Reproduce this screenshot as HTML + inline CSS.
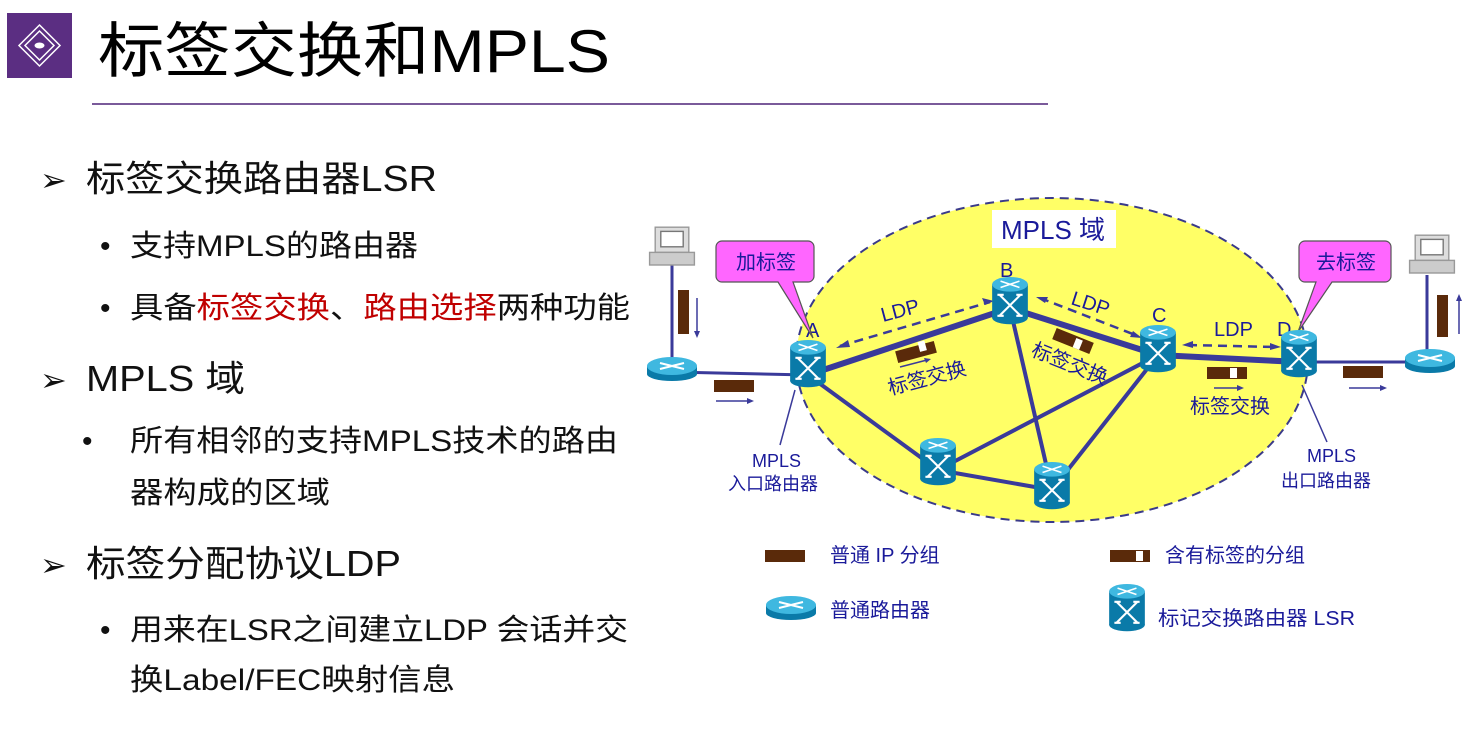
<!DOCTYPE html>
<html><head><meta charset="utf-8"><style>
body{margin:0;background:#fff;}
svg{display:block;}
.cn{font-family:"Liberation Sans","Noto Sans CJK SC",sans-serif;}
</style></head><body>
<svg width="1478" height="732" viewBox="0 0 1478 732" class="cn">
<defs>
<g id="lsr">
<rect x="-17" y="-14" width="34" height="32" fill="#0a7aa8"/>
<ellipse cx="0" cy="18" rx="17" ry="6" fill="#0a7aa8"/>
<ellipse cx="0" cy="-14" rx="17" ry="7" fill="#3fb8e0"/>
<path d="M-9,-17 L9,-11 M9,-17 L-9,-11" stroke="#fff" stroke-width="1.5"/>
<path d="M-10,-4 L10,16 M10,-4 L-10,16 M-12,-4h6 M12,-4h-6 M-12,16h6 M12,16h-6" stroke="#fff" stroke-width="2" fill="none"/>
</g>
<g id="rtr">
<rect x="-25" y="0" width="50" height="8" fill="#0a7aa8"/>
<ellipse cx="0" cy="8" rx="25" ry="7" fill="#0a7aa8"/>
<ellipse cx="0" cy="0" rx="25" ry="9" fill="#3fb8e0"/>
<path d="M-12,-3 L12,3 M12,-3 L-12,3" stroke="#fff" stroke-width="2"/>
</g>
<g id="pc">
<rect x="-12" y="-22" width="24" height="18" fill="#ddd" stroke="#999"/>
<rect x="-8" y="-19" width="16" height="11" fill="#fff" stroke="#777"/>
<rect x="-16" y="-4" width="32" height="9" fill="#ccc" stroke="#999"/>
</g>
</defs>
<!-- header -->
<rect x="7" y="13" width="65" height="65" fill="#5b2e82"/>
<path d="M39.5,25 L60,45.5 L39.5,66 L19,45.5Z M39.5,31 L54,45.5 L39.5,60 L25,45.5Z" fill="none" stroke="#fff" stroke-width="1.5"/>
<ellipse cx="39.5" cy="45.5" rx="5" ry="3" fill="#fff"/>
<text x="98" y="72" font-size="60" fill="#000" textLength="512" lengthAdjust="spacingAndGlyphs">标签交换和MPLS</text>
<line x1="92" y1="104" x2="1048" y2="104" stroke="#7a5a9a" stroke-width="2"/>
<!-- left text -->
<g font-size="36" fill="#111">
<text x="40" y="191" font-size="32">➢</text><text x="86" y="191" textLength="351" lengthAdjust="spacingAndGlyphs">标签交换路由器LSR</text>
<text x="40" y="391" font-size="32">➢</text><text x="86" y="391" textLength="159" lengthAdjust="spacingAndGlyphs">MPLS 域</text>
<text x="40" y="576" font-size="32">➢</text><text x="86" y="576" textLength="315" lengthAdjust="spacingAndGlyphs">标签分配协议LDP</text>
</g>
<g font-size="30" fill="#111">
<text x="100" y="256">•</text><text x="130" y="256" textLength="288" lengthAdjust="spacingAndGlyphs">支持MPLS的路由器</text>
<text x="100" y="318">•</text><text x="130" y="318" textLength="500" lengthAdjust="spacingAndGlyphs">具备<tspan fill="#c00000">标签交换</tspan>、<tspan fill="#c00000">路由选择</tspan>两种功能</text>
<text x="82" y="451">•</text><text x="130" y="451" textLength="488" lengthAdjust="spacingAndGlyphs">所有相邻的支持MPLS技术的路由</text>
<text x="130" y="503" textLength="200" lengthAdjust="spacingAndGlyphs">器构成的区域</text>
<text x="100" y="640">•</text><text x="130" y="640" textLength="498" lengthAdjust="spacingAndGlyphs">用来在LSR之间建立LDP 会话并交</text>
<text x="130" y="690" textLength="325" lengthAdjust="spacingAndGlyphs">换Label/FEC映射信息</text>
</g>
<!-- diagram -->
<ellipse cx="1052" cy="360" rx="256" ry="162" fill="#ffff66" stroke="#3a3a8a" stroke-width="2" stroke-dasharray="9,6"/>
<rect x="992" y="210" width="124" height="38" fill="#fff"/>
<text x="1001" y="239" font-size="26" fill="#1a1a9a">MPLS 域</text>
<g stroke="#3a3a9a" stroke-width="4">
<line x1="808" y1="375" x2="1010" y2="308" stroke-width="6"/>
<line x1="1010" y1="308" x2="1158" y2="355" stroke-width="6"/>
<line x1="1158" y1="355" x2="1299" y2="362" stroke-width="6"/>
<line x1="808" y1="375" x2="938" y2="470"/>
<line x1="938" y1="470" x2="1052" y2="490"/>
<line x1="938" y1="470" x2="1158" y2="355"/>
<line x1="1010" y1="308" x2="1052" y2="490"/>
<line x1="1158" y1="355" x2="1052" y2="490"/>
<line x1="672" y1="372" x2="808" y2="375" stroke-width="3"/>
<line x1="1299" y1="362" x2="1430" y2="362" stroke-width="3"/>
<line x1="672" y1="262" x2="672" y2="368" stroke-width="3"/>
<line x1="1427" y1="275" x2="1427" y2="358" stroke-width="3"/>
</g>
<g stroke="#3a3a9a" stroke-width="2.5" stroke-dasharray="9,6" fill="#3a3a9a">
<line x1="840" y1="346" x2="990" y2="302"/>
<line x1="1040" y1="298" x2="1138" y2="336"/>
<line x1="1188" y1="345" x2="1275" y2="347"/>
</g>
<g fill="#3a3a9a">
<path d="M836,348 l12,-8 l2,7z"/><path d="M994,301 l-12,-3 l3,7z"/>
<path d="M1036,297 l12,0 l-3,6z"/><path d="M1142,338 l-12,-1 l3,-6z"/>
<path d="M1182,345 l11,-4 l0,7z"/><path d="M1281,347 l-11,-4 l0,7z"/>
</g>
<g font-size="20" fill="#1a1a9a">
<text x="883" y="322" transform="rotate(-15 883 322)">LDP</text>
<text x="1070" y="304" transform="rotate(18 1070 304)">LDP</text>
<text x="1214" y="336">LDP</text>
<text x="806" y="337">A</text><text x="1000" y="277">B</text><text x="1152" y="322">C</text><text x="1277" y="336">D</text>
<text x="890" y="395" transform="rotate(-15 890 395)">标签交换</text>
<text x="1030" y="355" transform="rotate(22 1030 355)">标签交换</text>
<text x="1190" y="413">标签交换</text>
<text x="752" y="467" font-size="18">MPLS</text><text x="728" y="490" font-size="18">入口路由器</text>
<text x="1307" y="462" font-size="18">MPLS</text><text x="1281" y="487" font-size="18">出口路由器</text>
<text x="830" y="562">普通 IP 分组</text><text x="1165" y="562">含有标签的分组</text>
<text x="830" y="617">普通路由器</text><text x="1158" y="625" textLength="197" lengthAdjust="spacingAndGlyphs">标记交换路由器 LSR</text>
</g>
<!-- packets -->
<g fill="#5a2a0a">
<rect x="896" y="346" width="40" height="12" transform="rotate(-15 916 352)"/>
<rect x="1053" y="335" width="40" height="12" transform="rotate(22 1073 341)"/>
<rect x="1207" y="367" width="40" height="12"/>
<rect x="714" y="380" width="40" height="12"/>
<rect x="1343" y="366" width="40" height="12"/>
<rect x="678" y="290" width="11" height="44"/>
<rect x="1437" y="295" width="11" height="42"/>
<rect x="765" y="550" width="40" height="12"/>
<rect x="1110" y="550" width="40" height="12"/>
</g>
<g fill="#fff">
<rect x="920" y="343" width="7" height="10" transform="rotate(-15 916 352)"/>
<rect x="1075" y="337" width="7" height="10" transform="rotate(22 1073 341)"/>
<rect x="1230" y="368" width="7" height="10"/>
<rect x="1136" y="551" width="7" height="10"/>
</g>
<g stroke="#3a3a9a" stroke-width="1.5" fill="none">
<line x1="716" y1="401" x2="750" y2="401"/><line x1="1349" y1="388" x2="1383" y2="388"/>
<line x1="697" y1="298" x2="697" y2="334"/><line x1="1459" y1="298" x2="1459" y2="334"/>
<line x1="1214" y1="388" x2="1240" y2="388"/><line x1="900" y1="367" x2="927" y2="360"/>
<line x1="795" y1="390" x2="780" y2="445"/><line x1="1302" y1="385" x2="1327" y2="442"/>
</g>
<g fill="#3a3a9a">
<path d="M754,401 l-7,-3 v6z"/><path d="M1387,388 l-7,-3 v6z"/><path d="M1244,388 l-7,-3 v6z"/>
<path d="M697,338 l-3,-7 h6z"/><path d="M1459,294 l-3,7 h6z"/><path d="M931,359 l-7,-1 l2,5z"/>
</g>
<!-- callouts -->
<path d="M722,241 h86 a6,6 0 0 1 6,6 v29 a6,6 0 0 1 -6,6 h-15 L813,338 L778,282 h-56 a6,6 0 0 1 -6,-6 v-29 a6,6 0 0 1 6,-6z" fill="#ff66ff" stroke="#555" stroke-width="1.2"/>
<text x="736" y="269" font-size="20" fill="#1a1a9a">加标签</text>
<path d="M1305,241 h80 a6,6 0 0 1 6,6 v29 a6,6 0 0 1 -6,6 h-53 L1298,332 L1316,282 h-11 a6,6 0 0 1 -6,-6 v-29 a6,6 0 0 1 6,-6z" fill="#ff66ff" stroke="#555" stroke-width="1.2"/>
<text x="1316" y="269" font-size="20" fill="#1a1a9a">去标签</text>
<!-- devices -->
<g transform="translate(808,362) scale(1.05)"><use href="#lsr"/></g>
<g transform="translate(1010,299) scale(1.05)"><use href="#lsr"/></g>
<g transform="translate(1158,347) scale(1.05)"><use href="#lsr"/></g>
<g transform="translate(1299,352) scale(1.05)"><use href="#lsr"/></g>
<g transform="translate(938,460) scale(1.05)"><use href="#lsr"/></g>
<g transform="translate(1052,484) scale(1.05)"><use href="#lsr"/></g>
<g transform="translate(1127,606) scale(1.05)"><use href="#lsr"/></g>
<use href="#rtr" x="672" y="366"/><use href="#rtr" x="1430" y="358"/><use href="#rtr" x="791" y="605"/>
<g transform="translate(672,258) scale(1.4)"><use href="#pc"/></g>
<g transform="translate(1432,266) scale(1.4)"><use href="#pc"/></g>
</svg>
</body></html>
